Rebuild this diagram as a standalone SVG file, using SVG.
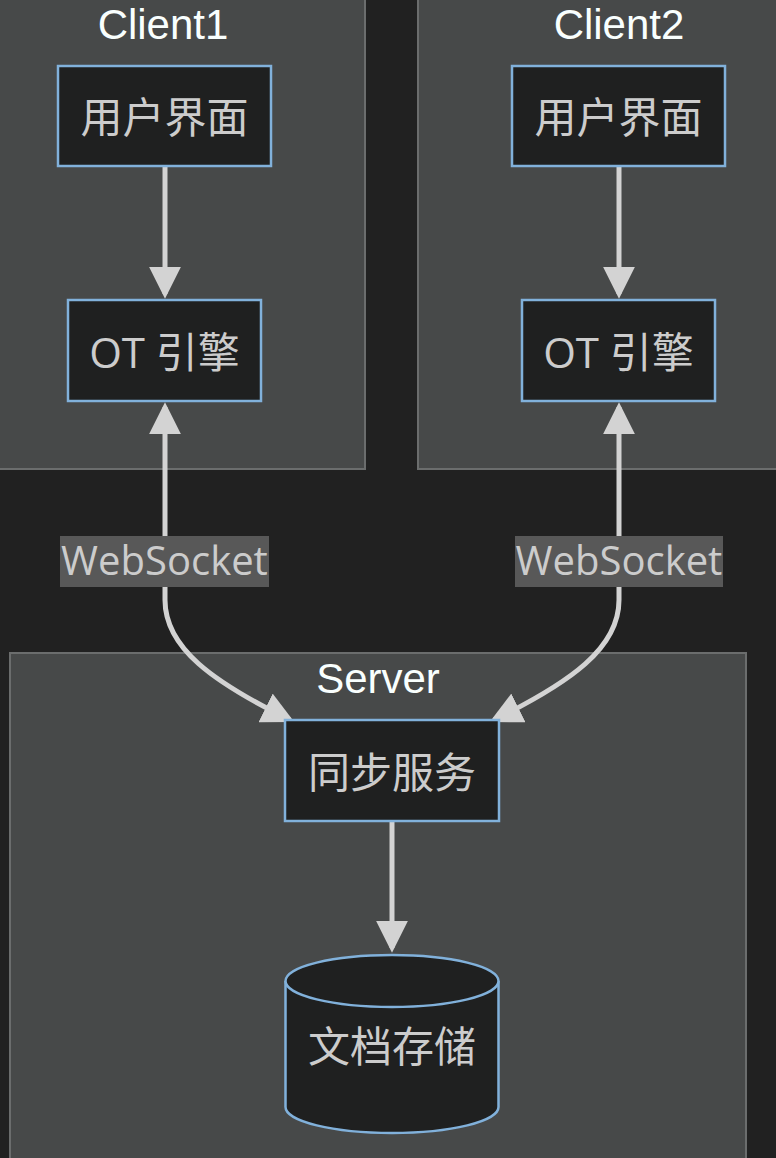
<svg xmlns="http://www.w3.org/2000/svg" width="776" height="1158" viewBox="0 0 776 1158">
<style>
.bg{fill:#212121}
.cluster rect{fill:#474949;stroke:#6b6d6d;stroke-width:2}
.ctitle{font-family:"Liberation Sans","Noto Sans CJK SC",sans-serif;font-size:42px;fill:#F9FFFE;text-anchor:middle}
.node rect,.node path,.node ellipse{fill:#1f2020;stroke:#81B1DB;stroke-width:2.5}
.ntext{font-family:"Open Sans","Noto Sans CJK SC",sans-serif;font-size:42px;fill:#cccccc;text-anchor:middle;dominant-baseline:central}
.edge{fill:none;stroke:#d3d3d3;stroke-width:5}
.lbg{fill:#585858}
.ltext{font-family:"Open Sans","Noto Sans CJK SC",sans-serif;font-size:40px;fill:#cccccc;text-anchor:middle}
</style>
<defs>
<marker id="arrow" viewBox="0 0 10 10" refX="8.5" refY="5" markerUnits="userSpaceOnUse" markerWidth="32" markerHeight="32" orient="auto-start-reverse">
<path d="M0,0 L10,5 L0,10 z" fill="#d3d3d3"/>
</marker>
</defs>
<rect class="bg" x="0" y="0" width="776" height="1158"/>
<g id="clusters">
<g id="Client1" class="cluster"><rect x="-40" y="-20" width="405" height="489"/><text class="ctitle" x="163" y="39">Client1</text></g>
<g id="Client2" class="cluster"><rect x="418" y="-20" width="405" height="489"/><text class="ctitle" x="619" y="39">Client2</text></g>
<g id="Server" class="cluster"><rect x="10" y="653" width="736" height="540"/><text class="ctitle" x="378" y="693">Server</text></g>
</g>
<g id="connectors">
<path class="edge" d="M165,167 L165,294" marker-end="url(#arrow)"/>
<path class="edge" d="M619,167 L619,294" marker-end="url(#arrow)"/>
<path class="edge" d="M165,407 L165,600 C165,648 213,682 290,720" marker-start="url(#arrow)" marker-end="url(#arrow)"/>
<path class="edge" d="M619,407 L619,600 C619,648 571,682 494,720" marker-start="url(#arrow)" marker-end="url(#arrow)"/>
<path class="edge" d="M392,822 L392,948" marker-end="url(#arrow)"/>
<g id="label1"><rect class="lbg" x="60" y="536" width="209" height="51"/><text class="ltext" x="164.5" y="575">WebSocket</text></g>
<g id="label2"><rect class="lbg" x="515" y="536" width="208" height="51"/><text class="ltext" x="619" y="575">WebSocket</text></g>
</g>
<g id="UI1" class="node"><rect x="58" y="66" width="213" height="100"/><text class="ntext" x="164.5" y="116">用户界面</text></g>
<g id="OT1" class="node"><rect x="68" y="300" width="193" height="101"/><text class="ntext" x="164.5" y="351">OT 引擎</text></g>
<g id="UI2" class="node"><rect x="512" y="66" width="213" height="100"/><text class="ntext" x="618.5" y="116">用户界面</text></g>
<g id="OT2" class="node"><rect x="522" y="300" width="193" height="101"/><text class="ntext" x="618.5" y="351">OT 引擎</text></g>
<g id="Sync" class="node"><rect x="285" y="720" width="214" height="101"/><text class="ntext" x="392" y="771">同步服务</text></g>
<g id="Store" class="node">
<path d="M285.5,981 A106.5,26 0 0 1 498.5,981 L498.5,1107 A106.5,26 0 0 1 285.5,1107 Z"/>
<path d="M285.5,981 A106.5,26 0 0 0 498.5,981" fill="none"/>
<text class="ntext" x="392" y="1045">文档存储</text>
</g>
</svg>
